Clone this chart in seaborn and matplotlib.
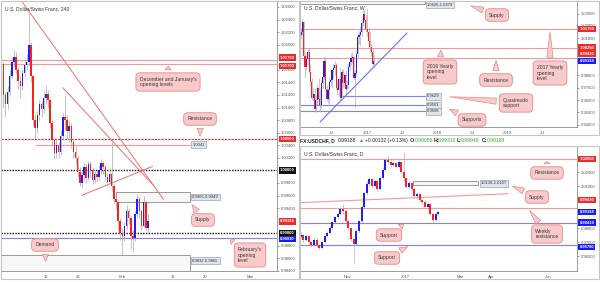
import numpy as np
import matplotlib
matplotlib.use("Agg")
import matplotlib.pyplot as plt
import matplotlib.transforms as mtransforms
from matplotlib.patches import Rectangle
import seaborn as sns

# ---------------------------------------------------------------- data
# 4H panel (x = trading days after Mon 9 Jan 2017, 3 bars per day)
h4_start_day = -2.0
h4_bars_per_day = 3
h4_first_open = 1.0185
h4_close = [1.0170, 1.0120, 1.0105, 1.0125, 1.0150, 1.0172, 1.0180, 1.0160, 1.0142, 1.0135,
            1.0155, 1.0168, 1.0172, 1.0200, 1.0150, 1.0080, 1.0068, 1.0088, 1.0105, 1.0098,
            1.0115, 1.0122, 1.0112, 1.0075, 1.0048, 1.0028, 1.0040, 1.0030, 1.0055, 1.0085,
            1.0080, 1.0062, 1.0070, 1.0045, 1.0030, 1.0020, 0.9998, 0.9980, 0.9992, 1.0005,
            0.9988, 1.0010, 1.0000, 0.9985, 0.9995, 0.9990, 1.0000, 1.0012, 1.0005, 0.9990,
            0.9982, 0.9995, 0.9975, 0.9955, 0.9950, 0.9920, 0.9900, 0.9895, 0.9912, 0.9935,
            0.9925, 0.9895, 0.9893, 0.9930, 0.9955, 0.9935, 0.9912, 0.9950, 0.9908, 0.99188]
h4_high = [1.0195, 1.0172, 1.0125, 1.0135, 1.0160, 1.0180, 1.0192, 1.0188, 1.0165, 1.0150,
           1.0160, 1.0175, 1.0185, 1.0250, 1.0205, 1.0152, 1.0090, 1.0095, 1.0112, 1.0110,
           1.0125, 1.0135, 1.0128, 1.0115, 1.0080, 1.0052, 1.0050, 1.0045, 1.0065, 1.0092,
           1.0120, 1.0088, 1.0080, 1.0075, 1.0050, 1.0040, 1.0025, 1.0005, 1.0000, 1.0012,
           1.0010, 1.0015, 1.0015, 1.0005, 1.0000, 1.0000, 1.0008, 1.0018, 1.0015, 1.0008,
           0.9995, 1.0000, 1.0045, 0.9978, 0.9960, 0.9952, 0.9925, 0.9908, 0.9918, 0.9945,
           0.9940, 0.9928, 0.9905, 0.9935, 0.9962, 0.9958, 0.9938, 0.9960, 0.9952, 0.9931]
h4_low = [1.0160, 1.0100, 1.0085, 1.0098, 1.0118, 1.0145, 1.0165, 1.0155, 1.0130, 1.0115,
          1.0128, 1.0150, 1.0160, 1.0168, 1.0140, 1.0070, 1.0050, 1.0060, 1.0080, 1.0085,
          1.0092, 1.0105, 1.0100, 1.0068, 1.0040, 1.0018, 1.0020, 1.0020, 1.0025, 1.0050,
          1.0065, 1.0050, 1.0045, 1.0035, 1.0020, 1.0008, 0.9990, 0.9975, 0.9972, 0.9985,
          0.9980, 0.9985, 0.9990, 0.9978, 0.9980, 0.9982, 0.9985, 0.9995, 0.9995, 0.9985,
          0.9975, 0.9978, 0.9968, 0.9948, 0.9938, 0.9905, 0.9890, 0.9865, 0.9888, 0.9905,
          0.9915, 0.9875, 0.9870, 0.9888, 0.9925, 0.9925, 0.9905, 0.9910, 0.9905, 0.9900]
h4_tick_days = [5, 10, 17, 25, 30, 37]
h4_tick_labels = ["16", "23", "Feb", "13", "20", "Mar"]
h4_yticks = [1.026, 1.024, 1.022, 1.020, 1.016, 1.014, 1.012, 1.010, 1.008, 1.006,
             1.004, 1.002, 0.998, 0.996, 0.994, 0.988, 0.986, 0.984]
h4_trend_a = ([1.09, 23.44], [1.0271, 0.9954])
h4_trend_b = ([7.66, 21.88], [1.01316, 0.99762])
h4_trend_c = ([10.63, 21.72], [0.99604, 1.00063])
h4_res_line = ([3.44, 27.66], [1.0041, 1.0041])
h4_supply = (15.94, 27.66, 0.9949, 0.9966)
h4_demand = (-2.03, 27.66, 0.9832, 0.9865)

# Weekly panel (x = weeks after 25 Jan 2016)
wk_first_open = 1.0130
wk_close = [1.0150, 1.0235, 0.9960, 0.9870, 0.9930, 0.9990, 0.9830, 0.9750, 0.9620, 0.9650,
            0.9530, 0.9600, 0.9700, 0.9610, 0.9560, 0.9740, 0.9790, 0.9920, 0.9690, 0.9610,
            0.9680, 0.9750, 0.9760, 0.9840, 0.9860, 0.9880, 0.9700, 0.9680, 0.9770, 0.9620,
            0.9830, 0.9740, 0.9800, 0.9690, 0.9720, 0.9870, 0.9910, 0.9940, 0.9950, 0.9780,
            0.9820, 0.9970, 1.0110, 1.0130, 1.0150, 1.0220, 1.0300, 1.0250, 1.0175, 1.0150,
            1.0080, 1.0030, 0.9990, 0.9890, 0.99188]
wk_high = [1.0180, 1.0257, 1.0240, 0.9990, 0.9960, 1.0010, 1.0020, 0.9890, 0.9780, 0.9700,
           0.9700, 0.9640, 0.9720, 0.9780, 0.9690, 0.9760, 0.9810, 0.9950, 0.9950, 0.9720,
           0.9700, 0.9790, 0.9830, 0.9850, 0.9900, 0.9920, 0.9900, 0.9760, 0.9790, 0.9860,
           0.9850, 0.9850, 0.9820, 0.9840, 0.9760, 0.9890, 0.9950, 0.9980, 0.9990, 0.9960,
           0.9840, 1.0000, 1.0140, 1.0160, 1.0190, 1.0240, 1.0340, 1.0330, 1.0290, 1.0340,
           1.0180, 1.0160, 1.0060, 1.0020, 0.9970]
wk_low = [1.0100, 1.0130, 0.9930, 0.9780, 0.9840, 0.9880, 0.9820, 0.9720, 0.9600, 0.9590,
          0.9500, 0.9500, 0.9560, 0.9600, 0.9500, 0.9540, 0.9700, 0.9770, 0.9680, 0.9590,
          0.9580, 0.9560, 0.9720, 0.9700, 0.9780, 0.9800, 0.9680, 0.9640, 0.9630, 0.9600,
          0.9600, 0.9700, 0.9710, 0.9630, 0.9680, 0.9700, 0.9840, 0.9880, 0.9900, 0.9770,
          0.9540, 0.9800, 0.9950, 1.0050, 1.0040, 1.0120, 1.0200, 1.0240, 1.0160, 1.0120,
          1.0050, 0.9990, 0.9960, 0.9860, 0.9860]
wk_tick_pos = [23, 49, 75, 101, 127, 153, 179]
wk_tick_labels = ["Jul", "2017", "Jul", "2018", "Jul", "2019", "Jul"]
wk_yticks = [1.03, 1.02, 1.01, 0.98, 0.97, 0.96, 0.95, 0.94]
wk_trend = ([14.1, 78.5], [0.9423, 1.0142])
wk_supply = (-0.7, 91.9, 1.0379, 1.0626)
wk_supports = [(31.0, 91.9, 0.9629), (-0.7, 91.9, 0.9561), (-0.7, 91.9, 0.9508)]

# Daily panel (x = trading days after 1 Nov 2016, 2-day bars)
dy_start_day = -35
dy_days_per_bar = 2
dy_first_open = 0.9740
dy_close = [0.9750, 0.9720, 0.9742, 0.9700, 0.9682, 0.9720, 0.9680, 0.9662, 0.9700, 0.9742,
            0.9770, 0.9800, 0.9842, 0.9878, 0.9900, 0.9938, 0.9922, 0.9850, 0.9800, 0.9722,
            0.9690, 0.9780, 0.9850, 0.9950, 1.0050, 1.0118, 1.0150, 1.0102, 1.0140, 1.0080,
            1.0160, 1.0220, 1.0285, 1.0272, 1.0250, 1.0265, 1.0240, 1.0272, 1.0200, 1.0160,
            1.0098, 1.0125, 1.0080, 1.0030, 1.0045, 1.0002, 0.9985, 0.9955, 0.9975, 0.9905,
            0.9860, 0.9905, 0.99188]
dy_high = [0.9775, 0.9758, 0.9760, 0.9748, 0.9710, 0.9735, 0.9728, 0.9690, 0.9712, 0.9750,
           0.9782, 0.9815, 0.9855, 0.9890, 0.9915, 0.9955, 0.9975, 0.9930, 0.9860, 0.9808,
           0.9730, 0.9795, 0.9862, 0.9962, 1.0062, 1.0135, 1.0165, 1.0160, 1.0152, 1.0148,
           1.0172, 1.0235, 1.0300, 1.0320, 1.0285, 1.0275, 1.0272, 1.0290, 1.0280, 1.0342,
           1.0170, 1.0138, 1.0132, 1.0090, 1.0058, 1.0050, 1.0010, 0.9992, 0.9985, 0.9980,
           0.9912, 0.9918, 0.9931]
dy_low = [0.9725, 0.9705, 0.9710, 0.9690, 0.9665, 0.9675, 0.9668, 0.9650, 0.9655, 0.9695,
          0.9735, 0.9762, 0.9795, 0.9835, 0.9870, 0.9895, 0.9905, 0.9840, 0.9785, 0.9710,
          0.9545, 0.9680, 0.9770, 0.9840, 0.9940, 1.0040, 1.0105, 1.0090, 1.0095, 1.0065,
          1.0075, 1.0150, 1.0210, 1.0260, 1.0238, 1.0240, 1.0228, 1.0232, 1.0190, 1.0140,
          1.0085, 1.0080, 1.0070, 1.0020, 1.0010, 0.9990, 0.9972, 0.9945, 0.9940, 0.9895,
          0.9848, 0.9852, 0.9890]
dy_tick_days = [0, 44, 86, 109, 152]
dy_tick_labels = ["Nov", "2017", "Mar", "Apr", "Jun"]
dy_yticks = [1.02, 1.01, 0.98, 0.97, 0.96]
dy_slope = ([-35.6, 121.8], [0.9983, 1.0047])
dy_supply = (49.9, 99.1, 1.0107, 1.0136)

header_parts = [("FX:USDCHF, D", "#222222", "bold"), ("0.99188", "#222222", "normal"),
                ("\u25B2", "#2e9e3e", "normal"), ("+0.00132 (+0.13%)", "#222222", "normal"),
                ("O:", "#222222", "bold"), ("0.99056", "#3aa63a", "normal"),
                ("H:", "#222222", "bold"), ("0.99310", "#3aa63a", "normal"),
                ("L:", "#222222", "bold"), ("0.99046", "#3aa63a", "normal"),
                ("C:", "#222222", "bold"), ("0.99188", "#3aa63a", "normal")]

# ---------------------------------------------------------------- style
W, H = 600, 282
sns.set_theme(style="white")
plt.rcParams["font.family"] = ["Liberation Sans", "DejaVu Sans"]

UP, DOWN, WICK = "#1d1dff", "#ff1f1f", "#a8a8a8"
PINK = "#f39a9a"
RED = "#ee2b2b"
BLUE = "#7f7fff"
CALL_FC, CALL_EC = "#f8caca", "#e68a8a"
LBL_FC, LBL_EC = "#dfe5ec", "#9ba6b2"
FS_TICK, FS_CALL, FS_TAG = 3.0, 3.6, 3.0

fig = plt.figure(figsize=(W / 100, H / 100), dpi=100)
fig.patch.set_facecolor("white")


def px_axes(x0, y0, x1, y1):
    return fig.add_axes([x0 / W, 1 - y1 / H, (x1 - x0) / W, (y1 - y0) / H])


def frame(x0, y0, x1, y1):
    fig.patches.append(Rectangle((x0 / W, 1 - y1 / H), (x1 - x0) / W, (y1 - y0) / H,
                                 transform=fig.transFigure, fill=False, ec="#c4c4c4", lw=0.8))


def style_axes(ax, xlim, ylim, yticks, xticks, xlabels):
    ax.set_xlim(*xlim)
    ax.set_ylim(*ylim)
    ax.set_facecolor("white")
    for s in ("left", "top"):
        ax.spines[s].set_visible(False)
    for s in ("right", "bottom"):
        ax.spines[s].set_color("#8c8c8c")
        ax.spines[s].set_linewidth(0.6)
    ax.yaxis.tick_right()
    ax.set_yticks(yticks)
    ax.set_yticklabels([f"{v:.5f}" for v in yticks])
    ax.set_xticks(xticks)
    ax.set_xticklabels(xlabels)
    ax.tick_params(axis="both", labelsize=FS_TICK, colors="#555555", length=1.5,
                   width=0.4, pad=1.5)
    ax.grid(False)


def candles(ax, x, first_open, close, high, low, width, wick_lw=0.5):
    close = np.asarray(close)
    opens = np.concatenate([[first_open], close[:-1]])
    up = close >= opens
    ax.vlines(x, low, high, color=WICK, lw=wick_lw, zorder=3)
    bottom = np.minimum(opens, close)
    span = ax.get_ylim()[1] - ax.get_ylim()[0]
    height = np.maximum(np.abs(close - opens), span * 0.006)
    ax.bar(x, height, bottom=bottom, width=width, color=np.where(up, UP, DOWN),
           linewidth=0, zorder=4)


def hline(ax, y, color, lw=0.8, ls="-", x0=None, x1=None, z=2):
    xl = ax.get_xlim()
    sns.lineplot(x=[xl[0] if x0 is None else x0, xl[1] if x1 is None else x1], y=[y, y],
                 ax=ax, color=color, lw=lw, linestyle=ls, zorder=z, legend=False)


def seg(ax, xs, ys, color, lw=0.7):
    sns.lineplot(x=xs, y=ys, ax=ax, color=color, lw=lw, zorder=2, legend=False,
                 estimator=None, sort=False)


def tag(ax, value, text, color, dy_px=0.0, xc=1.038):
    tr = mtransforms.blended_transform_factory(ax.transAxes, ax.transData)
    tr = tr + mtransforms.ScaledTranslation(0, dy_px / 100, fig.dpi_scale_trans)
    ax.text(xc, value, text, transform=tr, ha="center", va="center", fontsize=FS_TAG,
            color="white", fontweight="bold", clip_on=False, zorder=10,
            bbox=dict(boxstyle="square,pad=0.28", fc=color, ec="none"))


def vlabel(ax, x, y, text):
    ax.text(x, y, text, ha="left", va="center", fontsize=FS_TICK, color="#333333", zorder=7,
            clip_on=False,
            bbox=dict(boxstyle="square,pad=0.3", fc=LBL_FC, ec=LBL_EC, lw=0.5))


def callout(ax, text, xy, center_px):
    ax.annotate(text, xy=xy, xycoords="data", xytext=(center_px[0], H - center_px[1]),
                textcoords="figure pixels", ha="center", va="center", fontsize=FS_CALL,
                color="#3a3a3a", multialignment="left", annotation_clip=False, zorder=8,
                bbox=dict(boxstyle="round,pad=0.75,rounding_size=0.8", fc=CALL_FC,
                          ec=CALL_EC, lw=0.6),
                arrowprops=dict(arrowstyle="wedge,tail_width=0.45,shrink_factor=0.5",
                                mutation_scale=10, fc=CALL_FC, ec=CALL_EC, lw=0.5))


def box(ax, x0, x1, y0, y1):
    ax.add_patch(Rectangle((x0, y0), x1 - x0, y1 - y0, fc="#f7f7f7", ec="#8f8f8f",
                           lw=0.7, zorder=1, alpha=0.9))


# ---------------------------------------------------------------- frames
frame(0.5, 0.5, 298.5, 279)
frame(300, 0.5, 598.5, 135)
frame(300, 146, 598.5, 279)

# ---------------------------------------------------------------- 4H panel
ax1 = px_axes(1, 2, 277, 271)
style_axes(ax1, (-2.03, 41.25), (0.98416, 1.02679), h4_yticks, h4_tick_days, h4_tick_labels)
x_h4 = h4_start_day + np.arange(len(h4_close)) / h4_bars_per_day
box(ax1, *h4_demand)
box(ax1, *h4_supply)
hline(ax1, 1.0175, PINK, lw=0.8)
hline(ax1, 1.0170, PINK, lw=0.8)
hline(ax1, 1.0050, RED, lw=0.8, ls=(0, (2, 1)))
hline(ax1, 1.0000, "#111111", lw=1.0, ls=(0, (1, 1)))
hline(ax1, 0.9900, "#111111", lw=1.0, ls=(0, (1, 1)))
hline(ax1, 0.9893, BLUE, lw=0.8)
seg(ax1, *h4_res_line, color=PINK, lw=0.8)
seg(ax1, *h4_trend_a, color="#f07070")
seg(ax1, *h4_trend_b, color="#f07070")
seg(ax1, *h4_trend_c, color="#f07070")
candles(ax1, x_h4, h4_first_open, h4_close, h4_high, h4_low, width=0.24)
ax1.text(0.015, 0.975, "U.S. Dollar/Swiss Franc, 240", transform=ax1.transAxes,
         fontsize=FS_CALL, color="#333333", ha="left", va="center")
vlabel(ax1, 27.97, 1.0041, "1.0041")
vlabel(ax1, 27.97, 0.99575, "0.9966-0.9949")
vlabel(ax1, 27.97, 0.98565, "0.9832-0.9865")
callout(ax1, "December and January's\nopening levels", (24.2, 1.0170), (168, 82))
callout(ax1, "Resistance", (29.2, 1.0050), (200, 119))
callout(ax1, "Supply", (27.66, 0.9949), (203, 220))
callout(ax1, "Demand", (5.0, 0.9851), (45, 245))
callout(ax1, "February's\nopening\nlevel", (33.6, 0.9892), (250, 255))
tag(ax1, 1.0175, "1.01750", RED, dy_px=2.8)
tag(ax1, 1.0170, "1.01700", RED, dy_px=-2.2)
tag(ax1, 1.0050, "1.00500", RED)
tag(ax1, 1.0000, "1.00000", "#111111")
tag(ax1, 0.99188, "0.99188", RED)
tag(ax1, 0.9900, "0.99000", "#111111")
tag(ax1, 0.9893, "0.98930", "#1a1aff", dy_px=-1.5)

# ---------------------------------------------------------------- Weekly panel
ax2 = px_axes(300, 2, 577, 127)
style_axes(ax2, (-0.74, 204.4), (0.93824, 1.0393), wk_yticks, wk_tick_pos, wk_tick_labels)
x_wk = np.arange(len(wk_close))
box(ax2, *wk_supply)
hline(ax2, 1.0175, PINK)
hline(ax2, 1.0025, PINK)
hline(ax2, 0.9943, PINK)
for x0, x1, v in wk_supports:
    hline(ax2, v, BLUE, x0=x0, x1=x1)
seg(ax2, *wk_trend, color="#6d6dff", lw=0.8)
candles(ax2, x_wk, wk_first_open, wk_close, wk_high, wk_low, width=0.85, wick_lw=0.45)
ax2.text(0.015, 0.95, "U.S. Dollar/Swiss Franc, W", transform=ax2.transAxes,
         fontsize=FS_CALL, color="#333333", ha="left", va="center")
vlabel(ax2, 93.3, 1.0372, "1.0626-1.0379")
vlabel(ax2, 93.3, 0.9629, "0.9629")
vlabel(ax2, 93.3, 0.9561, "0.9561")
vlabel(ax2, 93.3, 0.9508, "0.9508")
callout(ax2, "Supply", (123.7, 1.0369), (497, 15))
callout(ax2, "2016 Yearly\nopening\nlevel", (103.7, 1.0025), (440, 72))
callout(ax2, "Resistance", (144.4, 0.9943), (496, 80))
callout(ax2, "2017 Yearly\nopening\nlevel", (184.4, 1.0175), (550, 73))
callout(ax2, "Quasimodo\nsupport", (108.0, 0.9629), (516, 103))
callout(ax2, "Supports", (108.0, 0.9535), (472, 120))
tag(ax2, 1.0175, "1.01750", RED, xc=1.036)
tag(ax2, 1.0025, "1.00250", RED, xc=1.036)
tag(ax2, 0.9943, "0.99430", RED, dy_px=3.5, xc=1.036)
tag(ax2, 0.99188, "0.99188", "#1a1aff", dy_px=-0.5, xc=1.036)

# ---------------------------------------------------------------- Daily panel
ax3 = px_axes(300, 146, 577, 271)
style_axes(ax3, (-35.55, 174.0), (0.9495, 1.03879), dy_yticks, dy_tick_days, dy_tick_labels)
x_dy = dy_start_day + dy_days_per_bar * np.arange(len(dy_close))
box(ax3, *dy_supply)
hline(ax3, 1.0295, PINK)
hline(ax3, 0.9943, PINK)
hline(ax3, 0.9841, BLUE)
hline(ax3, 0.9678, BLUE)
seg(ax3, *dy_slope, color=PINK, lw=0.8)
candles(ax3, x_dy, dy_first_open, dy_close, dy_high, dy_low, width=1.5, wick_lw=0.45)
ax3.text(0.015, 0.94, "U.S. Dollar/Swiss Franc, D", transform=ax3.transAxes,
         fontsize=FS_CALL, color="#333333", ha="left", va="center")
vlabel(ax3, 101.4, 1.01215, "1.0136-1.0107")
callout(ax3, "Resistance", (151.3, 1.0295), (547, 173))
callout(ax3, "Supply", (123.3, 1.0109), (537, 197))
callout(ax3, "Weekly\nresistance", (136.9, 0.9943), (547, 234))
callout(ax3, "Support", (44.6, 0.9841), (389, 235))
callout(ax3, "Support", (47.7, 0.9678), (387, 258))
tag(ax3, 1.0295, "1.02950", RED, xc=1.036)
tag(ax3, 0.9943, "0.99430", RED, dy_px=8, xc=1.036)
tag(ax3, 0.99188, "0.99188", "#1a1aff", xc=1.036)
tag(ax3, 0.9841, "0.98410", "#1a1aff", xc=1.036)
tag(ax3, 0.9678, "0.96780", "#1a1aff", dy_px=-1.5, xc=1.036)

# ---------------------------------------------------------------- header line
header_x = [300.5, 338, 359, 365, 410, 415, 434, 438, 457, 461, 482, 487]
for (txt, col, wt), xp in zip(header_parts, header_x):
    fig.text(xp / W, 1 - 140.5 / H, txt, fontsize=FS_CALL, color=col, fontweight=wt,
             ha="left", va="center")

fig.savefig("out.png", dpi=100, facecolor="white")
